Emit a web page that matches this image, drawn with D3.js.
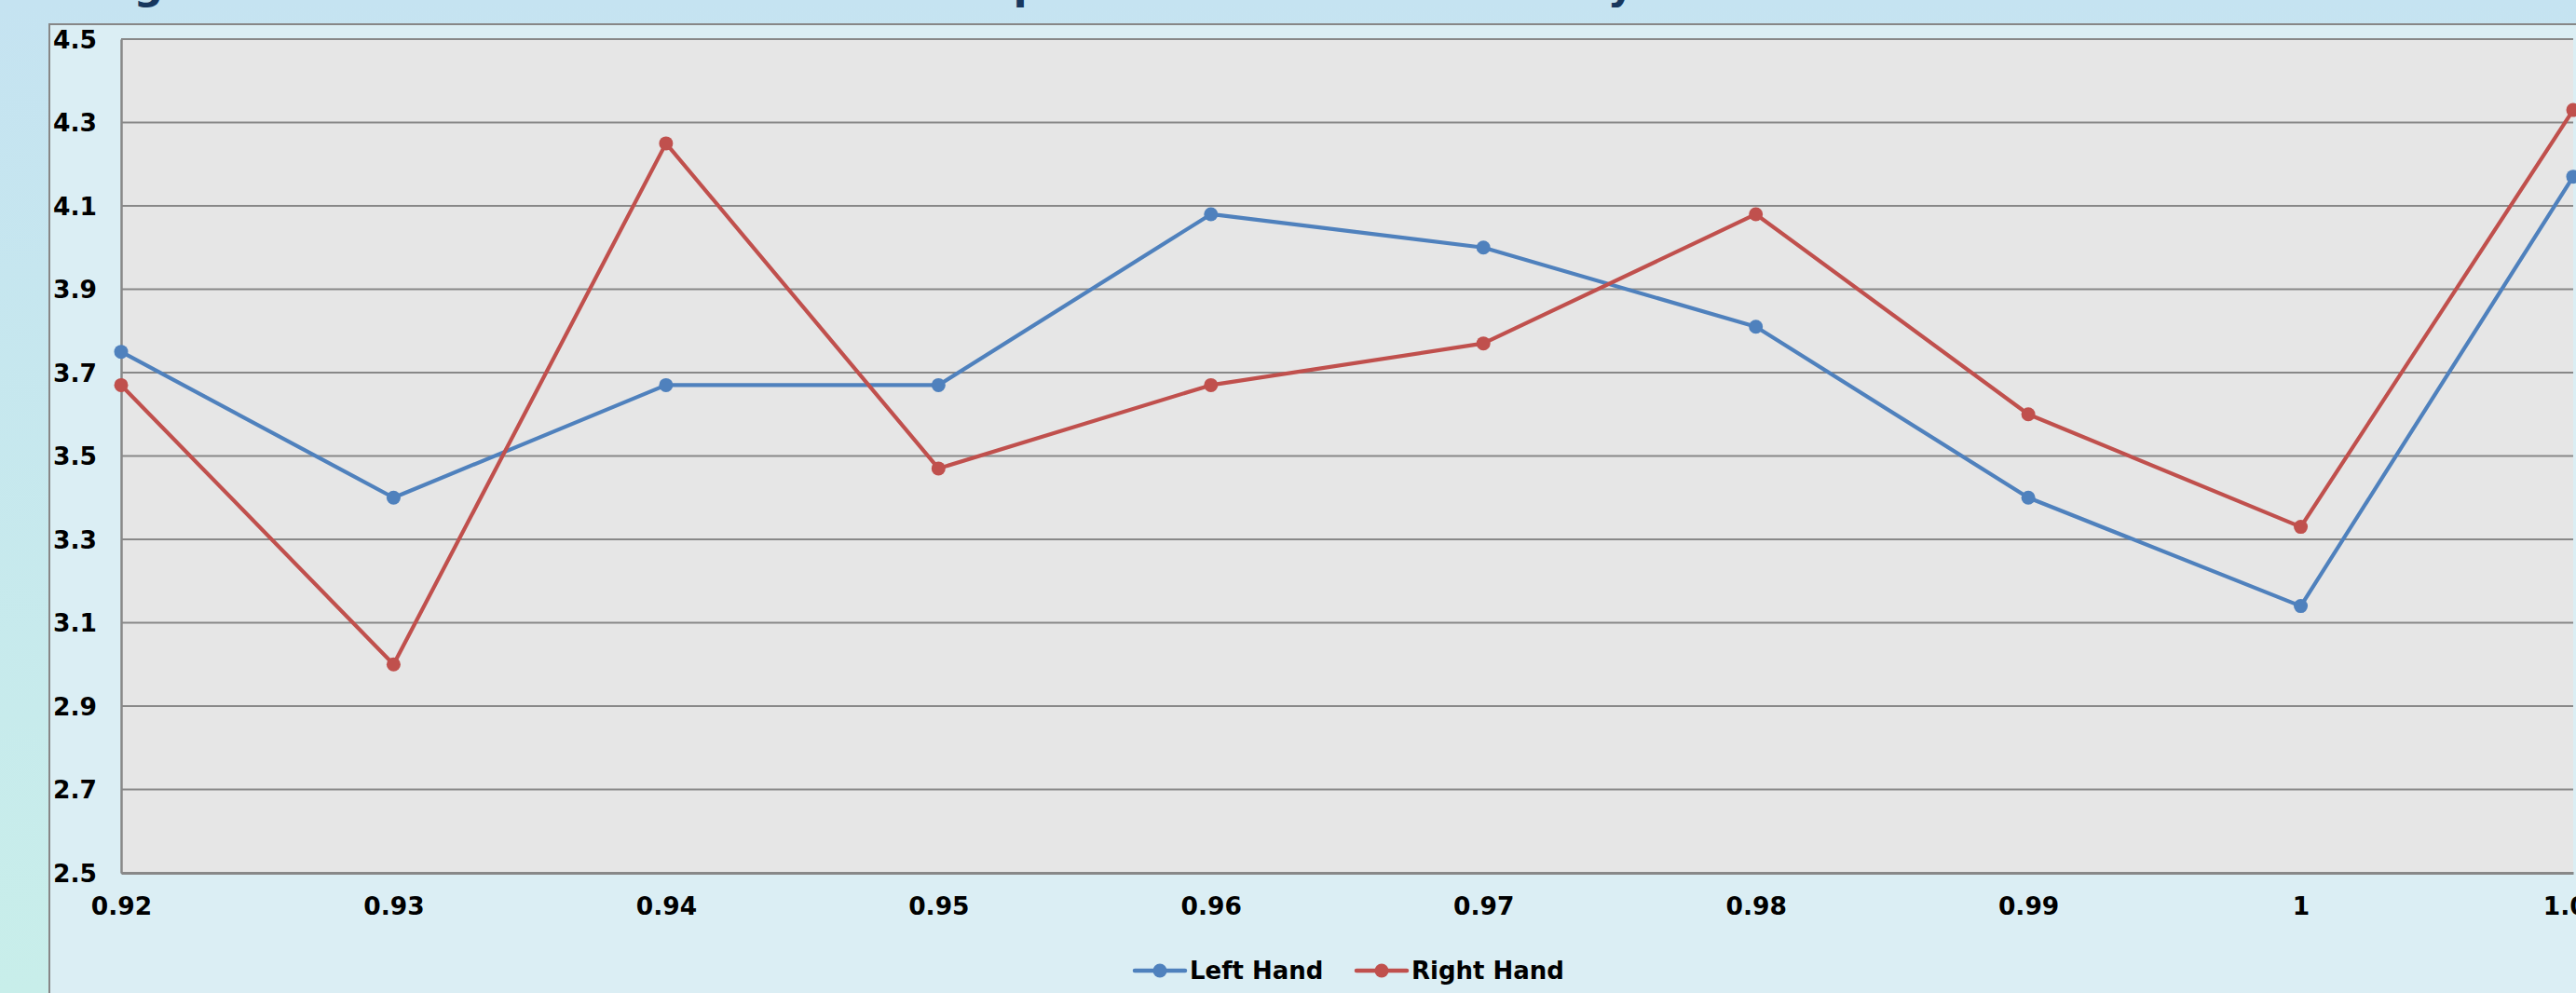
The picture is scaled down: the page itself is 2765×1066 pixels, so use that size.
<!DOCTYPE html>
<html>
<head>
<meta charset="utf-8">
<script src="https://cdn.jsdelivr.net/npm/d3@7"></script>
<style>
  html, body { margin: 0; padding: 0; overflow: hidden; background: #c6e6f0; }
  svg { display: block; }
</style>
</head>
<body>
<script>
// ---- data ----
const categories = ["0.92","0.93","0.94","0.95","0.96","0.97","0.98","0.99","1","1.01"];
const leftHand  = [3.75, 3.40, 3.67, 3.67, 4.08, 4.00, 3.81, 3.40, 3.14, 4.17];
const rightHand = [3.67, 3.00, 4.25, 3.47, 3.67, 3.77, 4.08, 3.60, 3.33, 4.33];
const yTicks = [2.5, 2.7, 2.9, 3.1, 3.3, 3.5, 3.7, 3.9, 4.1, 4.3, 4.5];
const yTickLabels = ["2.5","2.7","2.9","3.1","3.3","3.5","3.7","3.9","4.1","4.3","4.5"];
const seriesNames = ["Left Hand", "Right Hand"];
const titleText = "Average Score of Hands Across Ratios: Compared Over the Full Survey";

// ---- layout ----
const W = 2765, H = 1066;
const plot = { left: 130, right: 2762, top: 42, bottom: 937 };
const colors = ["#4f81bd", "#c0504d"];
const font = "'DejaVu Sans', Verdana, sans-serif";

const svg = d3.select("body").append("svg").attr("width", W).attr("height", H);

const defs = svg.append("defs");
const bgGrad = defs.append("linearGradient").attr("id", "bg").attr("x1", 0).attr("y1", 0).attr("x2", 0).attr("y2", 1);
bgGrad.append("stop").attr("offset", "0%").attr("stop-color", "#c5e3f1");
bgGrad.append("stop").attr("offset", "100%").attr("stop-color", "#c8eeea");

svg.append("rect").attr("width", W).attr("height", H).attr("fill", "url(#bg)");

// title (only its descenders reach the visible area)
svg.append("text")
  .attr("x", 1).attr("y", -1)
  .attr("font-family", font).attr("font-weight", "bold").attr("font-size", 44)
  .attr("fill", "#17375e")
  .text(titleText);

// chart area
svg.append("rect")
  .attr("x", 53).attr("y", 26).attr("width", W + 20).attr("height", H + 20)
  .attr("fill", "#dbeef4").attr("stroke", "#878787").attr("stroke-width", 2);

// plot area
svg.append("rect")
  .attr("x", plot.left).attr("y", plot.top)
  .attr("width", plot.right - plot.left).attr("height", plot.bottom - plot.top)
  .attr("fill", "#e6e6e6");

const x = d3.scalePoint().domain(categories).range([plot.left, plot.right]);
const y = d3.scaleLinear().domain([2.5, 4.5]).range([plot.bottom, plot.top]);

// gridlines
svg.append("g").selectAll("line").data(yTicks).join("line")
  .attr("x1", plot.left).attr("x2", plot.right)
  .attr("y1", d => y(d)).attr("y2", d => y(d))
  .attr("stroke", "#888888").attr("stroke-width", 2);

// y axis
const yAxis = d3.axisLeft(y).tickValues(yTicks).tickFormat((d, i) => yTickLabels[i]).tickSize(0).tickPadding(26);
const gy = svg.append("g").attr("transform", `translate(${plot.left},0)`).call(yAxis);
gy.select(".domain").attr("stroke", "#888888").attr("stroke-width", 2.5);
gy.selectAll("text")
  .attr("font-family", font).attr("font-weight", "bold").attr("font-size", 26.5)
  .attr("fill", "#000").attr("dy", "0.34em");

// x axis
const xAxis = d3.axisBottom(x).tickSize(0).tickPadding(26);
const gx = svg.append("g").attr("transform", `translate(0,${plot.bottom})`).call(xAxis);
gx.select(".domain").attr("stroke", "#888888").attr("stroke-width", 3);
gx.selectAll("text")
  .attr("font-family", font).attr("font-weight", "bold").attr("font-size", 26.5)
  .attr("fill", "#000").attr("dy", "0.71em");

// series
const series = [leftHand, rightHand];
const line = d3.line().x((d, i) => x(categories[i])).y(d => y(d));
series.forEach((vals, s) => {
  const g = svg.append("g");
  g.append("path").datum(vals)
    .attr("d", line)
    .attr("fill", "none").attr("stroke", colors[s]).attr("stroke-width", 4.2)
    .attr("stroke-linejoin", "round");
  g.selectAll("circle").data(vals).join("circle")
    .attr("cx", (d, i) => x(categories[i])).attr("cy", d => y(d))
    .attr("r", 7.5).attr("fill", colors[s]);
});

// legend
const legendItems = [
  { name: seriesNames[0], x0: 1218, tx: 1277 },
  { name: seriesNames[1], x0: 1456, tx: 1515 }
];
const ly = 1042;
legendItems.forEach((it, s) => {
  const g = svg.append("g");
  g.append("line").attr("x1", it.x0).attr("x2", it.x0 + 54).attr("y1", ly).attr("y2", ly)
    .attr("stroke", colors[s]).attr("stroke-width", 4.5).attr("stroke-linecap", "round");
  g.append("circle").attr("cx", it.x0 + 27).attr("cy", ly).attr("r", 7.5).attr("fill", colors[s]);
  g.append("text").attr("x", it.tx).attr("y", 1051)
    .attr("font-family", font).attr("font-weight", "bold").attr("font-size", 26)
    .attr("fill", "#000").text(it.name);
});
</script>
</body>
</html>
